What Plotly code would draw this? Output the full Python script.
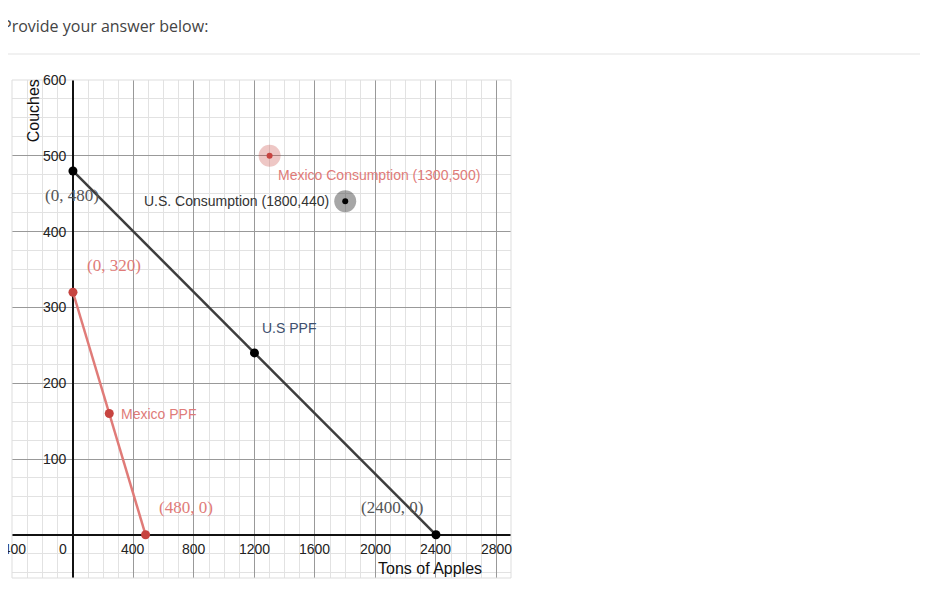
import plotly.graph_objects as go

us_x = [0, 1200, 2400]
us_y = [480, 240, 0]
mx_x = [0, 240, 480]
mx_y = [320, 160, 0]
mx_cons = (1300, 500)
us_cons = (1800, 440)
xticks = [-400, 0, 400, 800, 1200, 1600, 2000, 2400, 2800]
yticks = [100, 200, 300, 400, 500, 600]

RED = "#c74440"
LRED = "#e07b78"

fig = go.Figure()
fig.add_trace(go.Scatter(x=us_x, y=us_y, mode="lines+markers", line=dict(color="#3d3d3d", width=2.5),
                         marker=dict(color="black", size=9)))
fig.add_trace(go.Scatter(x=mx_x, y=mx_y, mode="lines+markers", line=dict(color=LRED, width=2.5),
                         marker=dict(color=RED, size=9)))
fig.add_trace(go.Scatter(x=[mx_cons[0]], y=[mx_cons[1]], mode="markers",
                         marker=dict(color="rgba(199,68,64,0.3)", size=22)))
fig.add_trace(go.Scatter(x=[mx_cons[0]], y=[mx_cons[1]], mode="markers",
                         marker=dict(color=RED, size=6)))
fig.add_trace(go.Scatter(x=[us_cons[0]], y=[us_cons[1]], mode="markers",
                         marker=dict(color="rgba(0,0,0,0.35)", size=22)))
fig.add_trace(go.Scatter(x=[us_cons[0]], y=[us_cons[1]], mode="markers",
                         marker=dict(color="black", size=6)))

ann = []
for t in xticks:
    ann.append(dict(x=t, y=0, yshift=-14, text=str(t), showarrow=False, xanchor="right" if t == 0 else "center",
                    xshift=-4 if t == 0 else 0, font=dict(size=14, color="#222", family="Arial")))
for t in yticks:
    ann.append(dict(x=0, y=t, xshift=-4, text=str(t), showarrow=False, xanchor="right",
                    font=dict(size=14, color="#222", family="Arial")))
serif = "Liberation Serif"
ann += [
    dict(x=0, y=480, text="(0, 480)", xshift=-30, yshift=-25, showarrow=False, xanchor="left",
         font=dict(size=17, color="#555", family=serif)),
    dict(x=0, y=320, text="(0, 320)", xshift=12, yshift=27, showarrow=False, xanchor="left",
         font=dict(size=17, color=LRED, family=serif)),
    dict(x=480, y=0, text="(480, 0)", xshift=40, yshift=27, showarrow=False,
         font=dict(size=17, color=LRED, family=serif)),
    dict(x=2400, y=0, text="(2400, 0)", xshift=-44, yshift=27, showarrow=False,
         font=dict(size=17, color="#555", family=serif)),
    dict(x=1300, y=500, text="Mexico Consumption (1300,500)", xshift=6, yshift=-19, showarrow=False, xanchor="left",
         font=dict(size=14, color=LRED, family="Arial")),
    dict(x=1800, y=440, text="U.S. Consumption (1800,440)", xshift=-14, showarrow=False, xanchor="right",
         font=dict(size=14, color="#333", family="Arial")),
    dict(x=1200, y=240, text="U.S PPF", xshift=6, yshift=25, showarrow=False, xanchor="left",
         font=dict(size=14, color="#3d4f6e", family="Arial")),
    dict(x=240, y=160, text="Mexico PPF", xshift=10, showarrow=False, xanchor="left",
         font=dict(size=14, color=LRED, family="Arial")),
    dict(x=2800, y=0, text="Tons of Apples", yshift=-34, xshift=-12, showarrow=False, xanchor="right",
         font=dict(size=16, color="#111", family="Arial")),
    dict(x=0, y=560, text="Couches", xshift=-40, showarrow=False, textangle=-90,
         font=dict(size=16, color="#111", family="Arial")),
    dict(xref="paper", yref="paper", x=-12/499, y=1+54/498, text="Provide your answer below:", showarrow=False,
         xanchor="left", yanchor="middle", font=dict(size=16, color="#444", family="Open Sans")),
]

fig.update_layout(
    width=928, height=600, showlegend=False, paper_bgcolor="white", plot_bgcolor="white",
    margin=dict(l=4, r=425, t=72, b=30),
    annotations=ann,
    shapes=[dict(type="line", xref="paper", yref="paper", x0=-12/499, x1=916/499, y0=1+26/498, y1=1+26/498,
                 line=dict(color="#e3e3e3", width=1)),
            dict(type="rect", xref="paper", yref="paper", x0=0, x1=1, y0=0, y1=1, line=dict(color="#ddd", width=1))],
    xaxis=dict(range=[-403, 2896], dtick=400, showticklabels=False, gridcolor="#999", gridwidth=1,
               minor=dict(dtick=100, gridcolor="#e2e2e2", showgrid=True),
               zeroline=True, zerolinecolor="#111", zerolinewidth=2, showline=False),
    yaxis=dict(range=[-57, 600], dtick=100, showticklabels=False, gridcolor="#999", gridwidth=1,
               minor=dict(dtick=25, gridcolor="#e2e2e2", showgrid=True),
               zeroline=True, zerolinecolor="#111", zerolinewidth=2, showline=False),
)
fig.write_html("out.html")
